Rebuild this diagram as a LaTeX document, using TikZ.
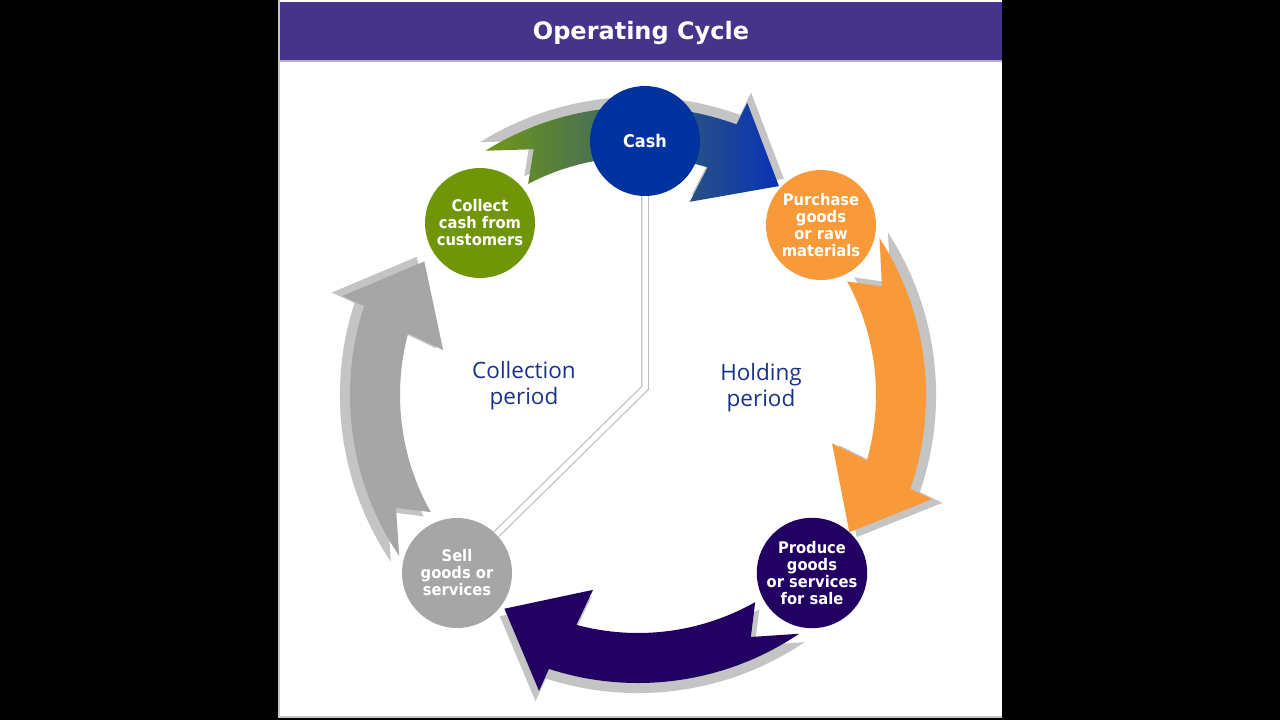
\documentclass[tikz,border=0pt]{standalone}
\usepackage{fontspec}
\usepackage{xcolor}
\usepackage{tikz}
\usetikzlibrary{calc}
\newfontfamily\stagefont[FakeStretch=0.92]{DejaVu Sans}
\newfontfamily\titlefont{DejaVu Sans}
\newfontfamily\periodfont{Open Sans}
\definecolor{titlebar}{RGB}{70,52,138}
\definecolor{cashblue}{RGB}{0,51,160}
\definecolor{collectgreen}{RGB}{112,150,8}
\definecolor{purchaseorange}{RGB}{248,154,58}
\definecolor{producepurple}{RGB}{34,0,98}
\definecolor{sellgray}{RGB}{166,166,166}
\definecolor{topgreen}{RGB}{112,152,22}
\definecolor{topmid}{RGB}{55,105,100}
\definecolor{topblue}{RGB}{8,50,182}
\definecolor{periodnavy}{RGB}{25,50,140}
\tikzset{
    stage_node/.style = {circle, minimum size=110pt, inner sep=0pt, align=center, text=white,
        font=\stagefont\bfseries\fontsize{16}{17}\selectfont},
    period_label/.style = {align=center, text=periodnavy, inner sep=0pt,
        font=\periodfont\fontsize{22.5}{26}\selectfont},
    title_text/.style = {text=white, inner sep=0pt, font=\titlefont\bfseries\fontsize{24}{28}\selectfont},
    clock_hand/.style = {draw=black!25, line width=1.2pt, double=white, double distance=5.5pt}
}
\tikzset{
    arrow_shadow/.style = {fill=black!23},
    top_arrow/.style = {left color=topgreen, middle color=topmid, right color=topblue},
    orange_arrow/.style = {fill=purchaseorange},
    purple_arrow/.style = {fill=producepurple},
    gray_arrow/.style = {fill=sellgray}
}
% curved block arrow round the ring: style, tail angle, scale
\newcommand{\cyclearrow}[3]{%
    \pgfmathsetmacro{\ta}{#2}
    \pgfmathsetmacro{\hb}{#2-52}
    \pgfmathsetmacro{\rout}{288*#3}
    \pgfmathsetmacro{\rin}{238*#3}
    \path[#1] (\ta:\rout) arc[start angle=\ta, end angle=\hb, radius=\rout pt]
        -- (\hb-0.5:312*#3) -- (\hb-14:252*#3) -- (\hb+5:200*#3) -- (\hb+3:\rin)
        arc[start angle=\hb+3, end angle=\ta-4.5, radius=\rin pt]
        -- (\ta-9:267*#3) -- cycle;
}
\begin{document}
\begin{tikzpicture}[x=1pt, y=1pt]
    \useasboundingbox (0,0) rectangle (1280,-720);
    \fill[black] (0,0) rectangle (1280,-720);
    \fill[white] (278,0) rectangle (1002,-718);
    \draw[black!22, line width=2pt] (279,0) -- (279,-717) -- (1002,-717);
    \fill[titlebar] (280,-2) rectangle (1002,-60);
    \draw[titlebar!40, line width=1.5pt] (280,-61) -- (1002,-61);
    \node[title_text] (title) at (641,-33) {Operating Cycle};

    \coordinate (ring) at (638,-395);
    \begin{scope}[shift={(ring)}]
        \foreach \tailang/\arrowstyle in {122/top_arrow, 33/orange_arrow, -56/purple_arrow, -146/gray_arrow}{
            \cyclearrow{arrow_shadow}{\tailang}{1.035}
            \cyclearrow{\arrowstyle}{\tailang}{1}
        }
    \end{scope}

    \node[stage_node, fill=cashblue, font=\stagefont\bfseries\fontsize{17.5}{19}\selectfont] (cash) at (645,-141) {Cash};
    \node[stage_node, fill=purchaseorange] (purchase) at (821,-225) {Purchase\\goods\\or raw\\materials};
    \node[stage_node, fill=producepurple, minimum size=108pt] (produce) at (812,-573) {Produce\\goods\\or services\\for sale};
    \node[stage_node, fill=sellgray] (sell) at (457,-573) {Sell\\goods or\\services};
    \node[stage_node, fill=collectgreen] (collect) at (480,-223) {Collect\\cash from\\customers};

    \coordinate (pivot) at (645,-388);
    \draw[clock_hand] (cash) -- (pivot) -- (sell);

    \node[period_label] (collection) at (524,-386) {Collection\\period};
    \node[period_label] (holding) at (761,-388) {Holding\\period};
\end{tikzpicture}
\end{document}
